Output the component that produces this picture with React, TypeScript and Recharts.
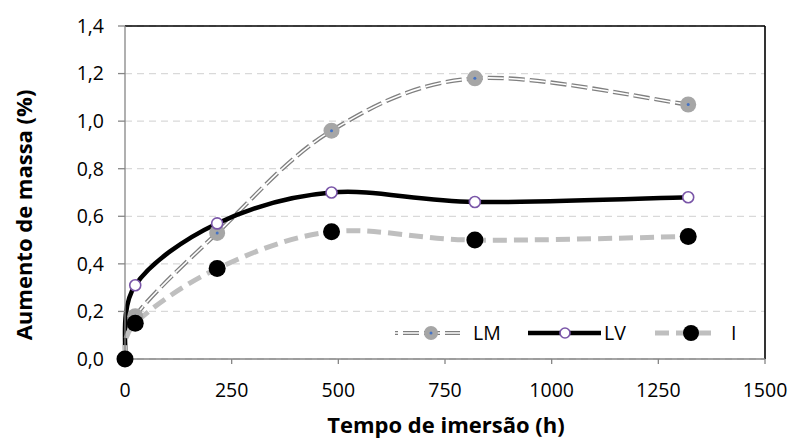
import React from 'react';
import {
  LineChart,
  Line,
  XAxis,
  YAxis,
  CartesianGrid,
  ReferenceLine,
  Legend,
  Label,
} from 'recharts';

// immersion time (h) and mass gain (%) per sample
const hours = [0, 24, 216, 484, 820, 1320];
const lm = [0, 0.18, 0.53, 0.96, 1.18, 1.07];
const lv = [0, 0.31, 0.57, 0.7, 0.66, 0.68];
const imm = [0, 0.15, 0.38, 0.535, 0.5, 0.515];

const xTicks = [0, 250, 500, 750, 1000, 1250, 1500];
const yTicks = [0, 0.2, 0.4, 0.6, 0.8, 1.0, 1.2, 1.4];

const data = hours.map((h, i) => ({ h, LM: lm[i], LV: lv[i], I: imm[i] }));

const FONT = '"Open Sans", sans-serif';
const TICK_FS = 19.5;

// Excel-like smoothing (Catmull-Rom through the points)
const excelSmooth = (context: any) => {
  let pts: number[][] = [];
  return {
    areaStart() {},
    areaEnd() {},
    lineStart() {
      pts = [];
    },
    point(x: number, y: number) {
      pts.push([+x, +y]);
    },
    lineEnd() {
      if (!pts.length) return;
      context.moveTo(pts[0][0], pts[0][1]);
      for (let i = 0; i < pts.length - 1; i++) {
        const p0 = pts[Math.max(0, i - 1)];
        const p1 = pts[i];
        const p2 = pts[i + 1];
        const p3 = pts[Math.min(pts.length - 1, i + 2)];
        context.bezierCurveTo(
          p1[0] + (p2[0] - p0[0]) / 6,
          p1[1] + (p2[1] - p0[1]) / 6,
          p2[0] - (p3[0] - p1[0]) / 6,
          p2[1] - (p3[1] - p1[1]) / 6,
          p2[0],
          p2[1]
        );
      }
    },
  };
};

const LmDot = (props: any) => {
  const { cx, cy } = props;
  if (cx == null || cy == null) return null;
  return (
    <g>
      <circle cx={cx} cy={cy} r={8} fill="#a6a6a6" />
      <circle cx={cx} cy={cy} r={1.5} fill="#4472c4" />
    </g>
  );
};

const LvDot = (props: any) => {
  const { cx, cy } = props;
  if (cx == null || cy == null) return null;
  return <circle cx={cx} cy={cy} r={5.5} fill="#fff" stroke="#7a56a8" strokeWidth={1.6} />;
};

const IDot = (props: any) => {
  const { cx, cy } = props;
  if (cx == null || cy == null) return null;
  return <circle cx={cx} cy={cy} r={8.5} fill="#000" />;
};

const LegendBox = () => (
  <svg width={400} height={30} style={{ display: 'block' }}>
    <g transform="translate(0,15)">
      {/* LM */}
      <line x1={15} x2={80} y1={0} y2={0} stroke="#7f7f7f" strokeWidth={4.2} strokeDasharray="16 5" strokeDashoffset={-8} />
      <line x1={15} x2={80} y1={0} y2={0} stroke="#fff" strokeWidth={1.6} strokeDasharray="16 5" strokeDashoffset={-8} />
      <circle cx={51} cy={0} r={7} fill="#a6a6a6" />
      <circle cx={51} cy={0} r={1.5} fill="#4472c4" />
      <text x={93} y={7} fontSize={TICK_FS} fontFamily={FONT} fill="#000">LM</text>
      {/* LV */}
      <line x1={148} x2={221} y1={0} y2={0} stroke="#000" strokeWidth={4.5} />
      <circle cx={185} cy={0} r={5} fill="#fff" stroke="#7a56a8" strokeWidth={1.6} />
      <text x={224} y={7} fontSize={TICK_FS} fontFamily={FONT} fill="#000">LV</text>
      {/* I */}
      <line x1={273} x2={336} y1={0} y2={0} stroke="#bfbfbf" strokeWidth={5} strokeDasharray="14 7" strokeDashoffset={-2} />
      <circle cx={311} cy={0} r={8} fill="#000" />
      <text x={351} y={7} fontSize={TICK_FS} fontFamily={FONT} fill="#000">I</text>
    </g>
  </svg>
);

const fmt = (v: number) => v.toFixed(1).replace('.', ',');

export default function App() {
  return (
    <div style={{ position: 'absolute', left: 0, top: 0, width: 790, height: 442, background: '#fff' }}>
      <LineChart width={790} height={442} data={data} margin={{ top: 26, right: 25, bottom: 0, left: 0 }}>
        <CartesianGrid vertical={false} stroke="#d9d9d9" strokeWidth={1.3} strokeDasharray="7 5" />
        <XAxis
          dataKey="h"
          type="number"
          domain={[0, 1500]}
          ticks={xTicks}
          height={83}
          interval={0}
          tickSize={5}
          tickMargin={19}
          stroke="#868686"
          strokeWidth={1.3}
          tick={{ fill: '#000', fontSize: TICK_FS, fontFamily: FONT }}
        >
          <Label
            content={(p: any) => {
              const vb = p.viewBox || {};
              return (
                <text
                  x={vb.x + vb.width / 2 + 1}
                  y={vb.y + 74}
                  textAnchor="middle"
                  fontSize={22}
                  fontWeight="bold"
                  fontFamily={FONT}
                  fill="#000"
                >
                  Tempo de imersão (h)
                </text>
              );
            }}
          />
        </XAxis>
        <YAxis
          type="number"
          domain={[0, 1.4]}
          ticks={yTicks}
          width={125}
          interval={0}
          tickSize={7}
          tickMargin={14}
          stroke="#868686"
          strokeWidth={1.3}
          tickFormatter={fmt}
          tick={{ fill: '#000', fontSize: TICK_FS, fontFamily: FONT }}
        >
          <Label
            content={() => (
              <text
                x={0}
                y={0}
                transform="translate(32,215) rotate(-90)"
                textAnchor="middle"
                fontSize={22}
                fontWeight="bold"
                fontFamily={FONT}
                fill="#000"
              >
                Aumento de massa (%)
              </text>
            )}
          />
        </YAxis>
        <ReferenceLine y={1.4} stroke="#000" strokeWidth={1.6} />
        <ReferenceLine x={1500} stroke="#000" strokeWidth={1.6} />
        <Legend
          layout="vertical"
          align="center"
          verticalAlign="middle"
          wrapperStyle={{ left: 380, top: 318, width: 400, height: 30 }}
          content={() => <LegendBox />}
        />
        <Line
          dataKey="LM"
          type={excelSmooth as any}
          stroke="#7f7f7f"
          strokeWidth={4.2}
          strokeDasharray="16 5"
          dot={false}
          activeDot={false}
          legendType="none"
          isAnimationActive={false}
        />
        <Line
          dataKey="LM"
          name="LM"
          type={excelSmooth as any}
          stroke="#fff"
          strokeWidth={1.6}
          strokeDasharray="16 5"
          dot={<LmDot />}
          activeDot={false}
          isAnimationActive={false}
        />
        <Line
          dataKey="LV"
          name="LV"
          type={excelSmooth as any}
          stroke="#000"
          strokeWidth={4.5}
          dot={<LvDot />}
          activeDot={false}
          isAnimationActive={false}
        />
        <Line
          dataKey="I"
          name="I"
          type={excelSmooth as any}
          stroke="#bfbfbf"
          strokeWidth={5}
          strokeDasharray="14 7"
          dot={<IDot />}
          activeDot={false}
          isAnimationActive={false}
        />
      </LineChart>
    </div>
  );
}
